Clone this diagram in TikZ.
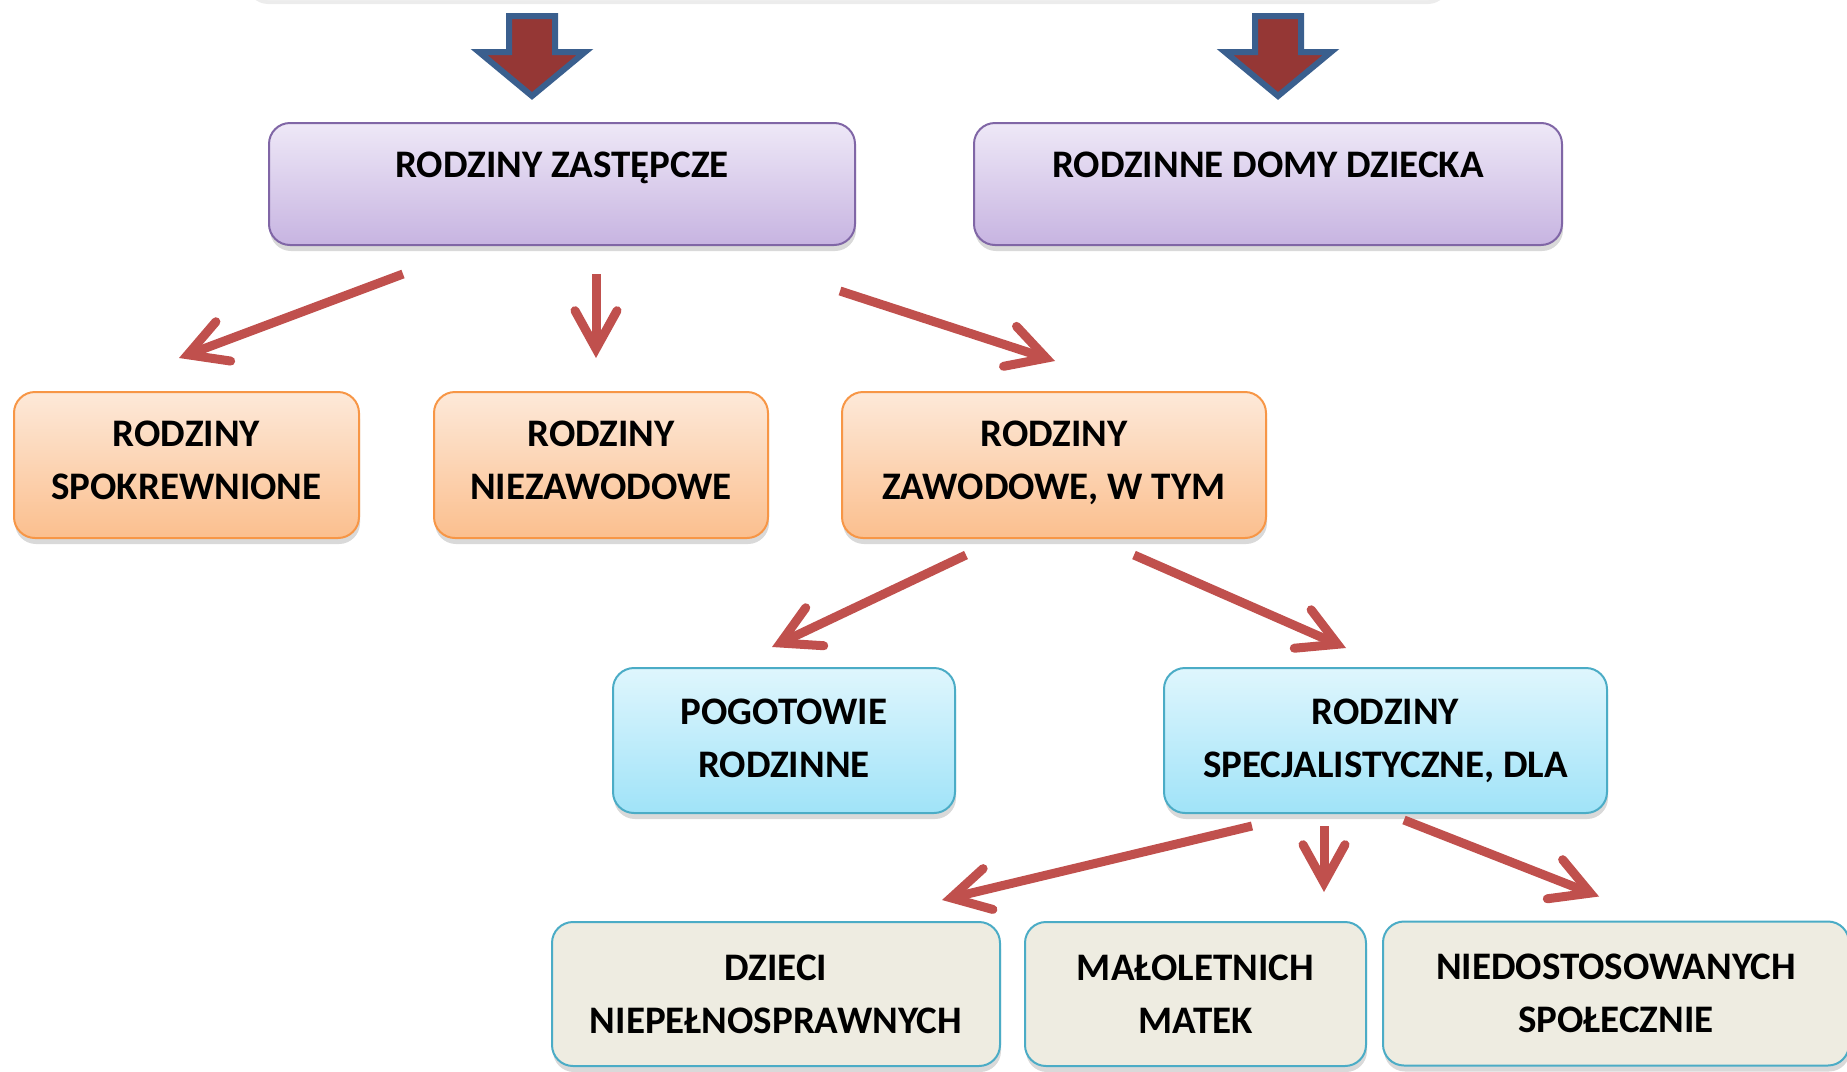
\documentclass[tikz,border=0pt]{standalone}
\usepackage{fontspec}
\setmainfont{Carlito}
\usetikzlibrary{arrows.meta,shadows}
\definecolor{lilacTop}{HTML}{EEE8F7}
\definecolor{lilacBot}{HTML}{C7B4E1}
\definecolor{lilacLine}{HTML}{8066A6}
\definecolor{apricotTop}{HTML}{FDE9D9}
\definecolor{apricotBot}{HTML}{FBBF8E}
\definecolor{apricotLine}{HTML}{F79646}
\definecolor{skyTop}{HTML}{DFF6FD}
\definecolor{skyBot}{HTML}{A0E3F8}
\definecolor{skyLine}{HTML}{4BACC6}
\definecolor{beigeFill}{HTML}{EEECE1}
\definecolor{blockRed}{HTML}{953735}
\definecolor{blockBlue}{HTML}{3A5F8E}
\definecolor{linkRed}{HTML}{C0504D}

\begin{document}
\begin{tikzpicture}[x=0.5pt,y=-0.5pt,font=\fontsize{19.5}{26.5}\selectfont\bfseries]
	\clip (0,0) rectangle (1847,1071);
	\tikzstyle{box}=[rounded corners=10.5pt, line width=1pt, align=center, inner sep=0pt, drop shadow={shadow xshift=0.5pt, shadow yshift=-3pt, opacity=.3}]
	\tikzstyle{lilac}=[box, draw=lilacLine, top color=lilacTop, bottom color=lilacBot, text height=27.2pt, text depth=33.8pt]
	\tikzstyle{apricot}=[box, draw=apricotLine, top color=apricotTop, bottom color=apricotBot, minimum height=73pt, text depth=5pt]
	\tikzstyle{sky}=[box, draw=skyLine, top color=skyTop, bottom color=skyBot, minimum height=72.5pt, text depth=2.5pt]
	\tikzstyle{beige}=[box, draw=skyLine, fill=beigeFill, minimum height=72pt]
	\tikzstyle{bigarrow}=[draw=blockBlue, fill=blockRed, line width=3pt]
	\tikzstyle{link}=[draw=linkRed, line width=4.5pt, -{Straight Barb[length=19pt,width=21pt,line cap=round]}, preaction={draw=black, opacity=.12, transform canvas={xshift=1.5pt,yshift=-2pt}}]

	\fill[white, rounded corners=10.5pt, drop shadow={shadow xshift=0pt, shadow yshift=-2pt, opacity=.15}] (247,-80) rectangle (1449,0);

	\node[lilac, minimum width=293pt] 	(zast) 		at (562,184) 		{RODZINY ZASTĘPCZE};
	\node[lilac, minimum width=294pt] 	(domy) 		at (1268,184) 		{RODZINNE DOMY DZIECKA};
	\node[apricot, minimum width=172.5pt] 	(spokr) 	at (186.5,465) 		{RODZINY\\SPOKREWNIONE};
	\node[apricot, minimum width=167pt] 	(niezaw) 	at (601,465) 		{RODZINY\\NIEZAWODOWE};
	\node[apricot, minimum width=212pt] 	(zawod) 	at (1054,465) 		{RODZINY\\ZAWODOWE, W TYM};
	\node[sky, minimum width=171pt] 	(pogot) 	at (784,740.5) 		{POGOTOWIE\\RODZINNE};
	\node[sky, minimum width=221.5pt] 	(specj) 	at (1385.5,740.5) 	{RODZINY\\SPECJALISTYCZNE, DLA};
	\node[beige, minimum width=224pt] 	(dzieci) 	at (776,994) 		{DZIECI\\NIEPEŁNOSPRAWNYCH};
	\node[beige, minimum width=170.5pt] 	(matek) 	at (1195.5,994) 	{MAŁOLETNICH\\MATEK};
	\node[beige, minimum width=233pt] 	(niedost) 	at (1616,993.5) 	{NIEDOSTOSOWANYCH\\SPOŁECZNIE};

	\draw[bigarrow, shift={(532,16)}] (-23,0) -- (23,0) -- (23,36) -- (53,36) -- (0,80) -- (-53,36) -- (-23,36) -- cycle;
	\draw[bigarrow, shift={(1278,16)}] (-23,0) -- (23,0) -- (23,36) -- (53,36) -- (0,80) -- (-53,36) -- (-23,36) -- cycle;

	\begin{scope}[link]
		\draw	([xshift=-79.5pt,yshift=-14pt]zast.south) -- ([xshift=-3.75pt,yshift=16.5pt]spokr.north);
		\draw	([xshift=17pt,yshift=-14pt]zast.south) -- ([xshift=-2.5pt,yshift=16.5pt]niezaw.north);
		\draw	([xshift=-8pt,yshift=-22.5pt]zast.south east) -- ([xshift=0.5pt,yshift=15pt]zawod.north);
		\draw	([xshift=-44pt,yshift=-8pt]zawod.south) -- ([xshift=-6pt,yshift=10pt]pogot.north);
		\draw	([xshift=40pt,yshift=-8pt]zawod.south) -- ([xshift=-19.75pt,yshift=9.5pt]specj.north);
		\draw	([xshift=-66.75pt,yshift=-6pt]specj.south) -- ([xshift=83pt,yshift=10.5pt]dzieci.north);
		\draw	([xshift=-30.75pt,yshift=-6pt]specj.south) -- ([xshift=64.25pt,yshift=14.5pt]matek.north);
		\draw	([xshift=9.25pt,yshift=-3pt]specj.south) -- ([xshift=-8.5pt,yshift=12pt]niedost.north);
	\end{scope}
\end{tikzpicture}
\end{document}
